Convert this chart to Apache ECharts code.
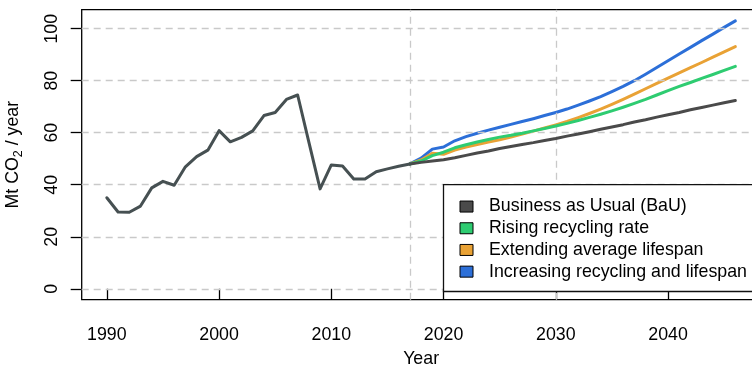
<!DOCTYPE html>
<html>
<head>
<meta charset="utf-8">
<script src="https://cdn.jsdelivr.net/npm/echarts@6/dist/echarts.min.js"></script>
<style>
  html, body { margin: 0; padding: 0; background: #fff; }
  #chart { width: 752px; height: 366px; }
</style>
</head>
<body>
<div id="chart"></div>
<script>
// Historical emissions, 1990-2017
const histYears = [1990, 1991, 1992, 1993, 1994, 1995, 1996, 1997, 1998, 1999,
                   2000, 2001, 2002, 2003, 2004, 2005, 2006, 2007, 2008, 2009,
                   2010, 2011, 2012, 2013, 2014, 2015, 2016, 2017];
const histValues = [35.0, 29.5, 29.4, 31.8, 38.8, 41.3, 39.8, 46.9, 50.8, 53.3,
                    60.8, 56.5, 58.2, 60.7, 66.6, 67.8, 72.8, 74.5, 56.4, 38.4,
                    47.6, 47.2, 42.2, 42.2, 45.0, 46.1, 47.1, 48.0];

// Scenario projections, 2017-2046
const projYears = [2017, 2018, 2019, 2020, 2021, 2022, 2023, 2024, 2025, 2026,
                   2027, 2028, 2029, 2030, 2031, 2032, 2033, 2034, 2035, 2036,
                   2037, 2038, 2039, 2040, 2041, 2042, 2043, 2044, 2045, 2046];
const bau = [48.0, 48.6, 49.1, 49.6, 50.4, 51.3, 52.2, 53.0, 53.9, 54.7,
             55.5, 56.2, 57.0, 57.8, 58.7, 59.5, 60.4, 61.3, 62.2, 63.1,
             64.1, 65.0, 66.0, 66.9, 67.8, 68.8, 69.7, 70.6, 71.5, 72.4];
const recycling = [48.0, 49.1, 51.2, 52.5, 54.2, 55.4, 56.4, 57.4, 58.3, 59.0,
                   59.8, 60.7, 61.6, 62.6, 63.6, 64.7, 65.9, 67.1, 68.4, 69.8,
                   71.3, 72.8, 74.5, 76.2, 77.8, 79.3, 80.9, 82.4, 84.0, 85.5];
const lifespan = [48.0, 49.5, 52.1, 51.7, 53.3, 54.5, 55.5, 56.4, 57.3, 58.3,
                  59.5, 60.6, 61.8, 63.0, 64.3, 65.8, 67.4, 69.1, 70.9, 72.8,
                  74.8, 76.9, 79.0, 81.0, 83.0, 85.0, 87.0, 89.1, 91.1, 93.1];
const combined = [48.0, 50.2, 53.7, 54.5, 56.9, 58.5, 59.8, 61.0, 62.1, 63.2,
                  64.3, 65.4, 66.6, 67.8, 69.1, 70.6, 72.2, 73.9, 75.8, 77.8,
                  80.0, 82.5, 85.1, 87.7, 90.3, 92.8, 95.4, 97.9, 100.5, 103.0];

const scenarioNames = ['Business as Usual (BaU)', 'Rising recycling rate',
                       'Extending average lifespan', 'Increasing recycling and lifespan'];
const scenarioColors = ['#4a4a4a', '#2ecc71', '#e9a235', '#2c6fd8'];

// Axis ticks and reference lines
const xTicks = [1990, 2000, 2010, 2020, 2030, 2040];
const yTicks = [0, 20, 40, 60, 80, 100];
const refYears = [2017, 2030];

const FONT = '"Liberation Sans", Arial, Helvetica, sans-serif';
const FS = 17.8;

function pairs(xs, ys) { return xs.map((x, i) => [x, ys[i]]); }

const gridLine = { color: '#c9c9c9', width: 1.3, type: [7, 5] };

function line(name, xs, ys, color, z) {
  return {
    name: name, type: 'line', data: pairs(xs, ys), showSymbol: false, symbol: 'none',
    z: z, clip: true, animation: false,
    lineStyle: { color: color, width: 3, cap: 'round', join: 'round' },
    itemStyle: { color: color, borderColor: '#000', borderWidth: 1 }
  };
}

const refSeries = {
  type: 'line', data: [], silent: true, z: 1,
  markLine: {
    silent: true, symbol: 'none', label: { show: false }, animation: false,
    lineStyle: gridLine,
    data: yTicks.map(v => ({ yAxis: v })).concat(refYears.map(v => ({ xAxis: v })))
  }
};

const series = [
  refSeries,
  line(scenarioNames[3], projYears, combined, scenarioColors[3], 3),
  line(scenarioNames[2], projYears, lifespan, scenarioColors[2], 4),
  line(scenarioNames[1], projYears, recycling, scenarioColors[1], 5),
  line(scenarioNames[0], projYears, bau, scenarioColors[0], 6),
  line('Historical', histYears, histValues, '#465052', 7)
];

const chart = echarts.init(document.getElementById('chart'), null, { renderer: 'canvas' });
chart.setOption({
  animation: false,
  backgroundColor: '#fff',
  textStyle: { fontFamily: FONT },
  grid: {
    left: 81.7, top: 9.7, width: 678.8, height: 290,
    show: true, borderColor: '#000', borderWidth: 1.3, backgroundColor: 'transparent',
    containLabel: false, outerBoundsMode: 'none'
  },
  xAxis: {
    type: 'value', min: 1987.76, max: 2048.24,
    name: 'Year', nameLocation: 'middle', nameGap: 50,
    nameTextStyle: { fontFamily: FONT, fontSize: FS, color: '#000' },
    axisLine: { show: false },
    axisTick: { show: true, inside: false, length: 11, customValues: xTicks,
                lineStyle: { color: '#000', width: 1.3 } },
    axisLabel: { customValues: xTicks, margin: 26, fontFamily: FONT, fontSize: FS, color: '#000',
                 formatter: v => String(v) },
    splitLine: { show: false }
  },
  yAxis: {
    type: 'value', min: -4.2, max: 107.3,
    name: '{a|Mt CO}{s|2}{a| / year}', nameLocation: 'middle', nameGap: 57, nameRotate: 90,
    nameTextStyle: {
      fontFamily: FONT, fontSize: FS, color: '#000',
      rich: {
        a: { fontFamily: FONT, fontSize: FS, color: '#000', lineHeight: 24 },
        s: { fontFamily: FONT, fontSize: 12.5, color: '#000', lineHeight: 14, verticalAlign: 'bottom' }
      }
    },
    axisLine: { show: false },
    axisTick: { show: true, inside: false, length: 11, customValues: yTicks,
                lineStyle: { color: '#000', width: 1.3 } },
    axisLabel: { customValues: yTicks, rotate: 90, margin: 21, fontFamily: FONT, fontSize: FS, color: '#000',
                 formatter: v => String(v) },
    splitLine: { show: false }
  },
  legend: {
    orient: 'vertical', left: 443.5, top: 184.7,
    data: scenarioNames,
    backgroundColor: '#fff', borderColor: '#111', borderWidth: 1.3,
    padding: [11, 40, 9, 16], itemGap: 0,
    icon: 'rect', itemWidth: 13, itemHeight: 11,
    itemStyle: { borderColor: '#000', borderWidth: 1 },
    textStyle: { fontFamily: FONT, fontSize: FS, color: '#000', lineHeight: 21.7, padding: [0, 0, 0, 11] },
    selectedMode: false, z: 20
  },
  series: series
});
</script>
</body>
</html>
